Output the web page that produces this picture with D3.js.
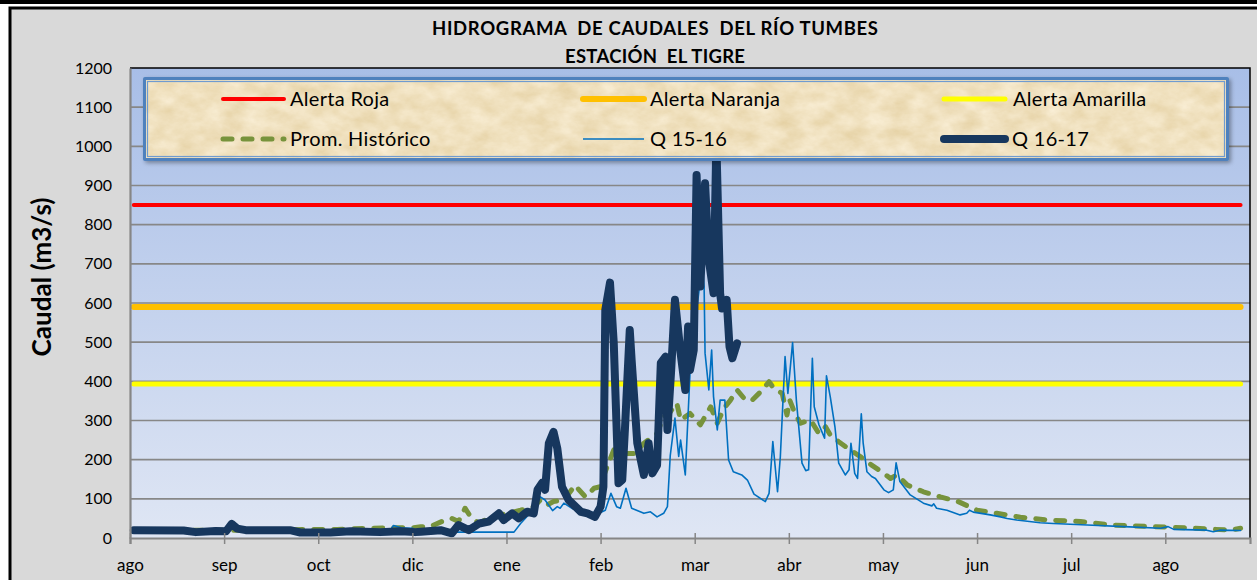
<!DOCTYPE html>
<html>
<head>
<meta charset="utf-8">
<script src="https://cdn.jsdelivr.net/npm/d3@7"></script>
<style>
  body { margin: 0; background: #fff; }
  svg { display: block; font-family: Lato, "Open Sans", sans-serif; }
</style>
</head>
<body>
<svg id="chart" width="1257" height="580"></svg>
<script>
'use strict'

// x values are months counted from 1 ago, y values in m3/s
const monthLabels = ['ago', 'sep', 'oct', 'dic', 'ene', 'feb', 'mar', 'abr', 'may', 'jun', 'jul', 'ago'];
const caudalTicks = [0, 100, 200, 300, 400, 500, 600, 700, 800, 900, 1000, 1100, 1200];

const seasonSpan = [0.04, 11.8];
const alertaRoja = 850;
const alertaNaranja = 590;
const alertaAmarilla = 393;

const promHistorico = [[0.04,20],[1.00,20],[1.50,20],[1.88,22],[2.20,22],[2.74,26],[3.00,26],[3.09,29],[3.19,29],[3.35,46],[3.42,50],[3.49,42],[3.56,76],[3.62,54],[3.71,37],[3.83,54],[4.01,63],[4.15,71],[4.29,80],[4.36,97],[4.43,84],[4.50,93],[4.61,97],[4.73,135],[4.77,123],[4.84,105],[4.93,127],[5.00,131],[5.03,157],[5.14,225],[5.25,216],[5.37,216],[5.46,242],[5.60,267],[5.67,310],[5.74,322],[5.81,344],[5.85,301],[5.95,318],[6.06,289],[6.11,310],[6.17,335],[6.24,293],[6.31,331],[6.38,352],[6.45,378],[6.54,352],[6.61,352],[6.72,378],[6.79,399],[6.84,382],[6.93,369],[6.98,314],[7.01,352],[7.05,327],[7.12,293],[7.23,301],[7.32,267],[7.39,284],[7.44,263],[7.53,246],[7.65,225],[7.76,208],[7.88,186],[8.01,165],[8.08,152],[8.15,161],[8.26,135],[8.43,118],[8.61,105],[8.80,93],[9.00,71],[9.21,63],[9.46,53],[9.74,46],[10.10,42],[10.45,33],[10.87,29],[11.30,25],[11.69,20],[11.80,25]];

const q1516 = [[0.04,17],[1.00,16],[1.08,24],[1.20,17],[2.00,12],[2.50,13],[2.75,15],[2.80,32],[2.88,26],[3.00,25],[3.06,17],[3.12,15],[4.08,15],[4.15,37],[4.25,63],[4.36,105],[4.41,97],[4.49,70],[4.54,80],[4.57,76],[4.61,89],[4.70,75],[4.85,65],[5.00,65],[5.05,71],[5.11,114],[5.17,80],[5.21,76],[5.27,127],[5.33,76],[5.46,63],[5.53,67],[5.60,54],[5.67,63],[5.71,80],[5.74,210],[5.79,306],[5.83,208],[5.85,250],[5.90,161],[5.95,420],[5.97,540],[6.03,600],[6.08,700],[6.10,642],[6.11,472],[6.15,378],[6.18,480],[6.20,361],[6.24,276],[6.27,352],[6.32,352],[6.36,199],[6.41,169],[6.50,161],[6.56,148],[6.63,112],[6.75,93],[6.79,114],[6.83,246],[6.88,118],[6.91,208],[6.96,463],[6.99,369],[7.04,499],[7.08,352],[7.14,191],[7.18,172],[7.21,174],[7.25,459],[7.27,335],[7.32,289],[7.38,255],[7.40,414],[7.44,361],[7.49,284],[7.53,191],[7.60,161],[7.64,174],[7.66,242],[7.70,165],[7.73,152],[7.77,317],[7.79,242],[7.83,169],[7.88,157],[7.92,152],[8.01,123],[8.06,116],[8.11,123],[8.14,192],[8.18,144],[8.29,110],[8.43,89],[8.52,82],[8.54,87],[8.57,76],[8.68,71],[8.82,59],[8.89,63],[8.92,71],[8.96,66],[9.14,59],[9.25,54],[9.32,50],[9.42,46],[9.67,39],[9.81,37],[10.17,33],[10.56,29],[10.95,25],[11.03,29],[11.09,22],[11.44,20],[11.51,16],[11.58,20],[11.80,19]];

const q1617 = [[0.04,20],[0.57,19],[0.70,15],[0.91,18],[1.02,17],[1.08,36],[1.14,24],[1.23,20],[1.70,20],[1.81,14],[2.13,14],[2.34,17],[2.66,15],[2.87,17],[3.03,15],[3.09,16],[3.30,20],[3.42,12],[3.49,33],[3.60,20],[3.71,37],[3.81,42],[3.92,63],[3.97,46],[4.06,63],[4.13,50],[4.22,67],[4.29,63],[4.33,123],[4.38,141],[4.41,123],[4.45,242],[4.50,271],[4.54,229],[4.59,131],[4.66,97],[4.79,67],[4.86,63],[4.94,54],[5.00,80],[5.03,131],[5.05,582],[5.10,652],[5.14,497],[5.19,140],[5.23,148],[5.26,284],[5.31,531],[5.33,454],[5.39,242],[5.46,161],[5.51,242],[5.55,165],[5.60,186],[5.64,447],[5.69,463],[5.71,276],[5.75,429],[5.79,608],[5.85,472],[5.90,378],[5.93,540],[5.95,429],[5.99,480],[6.02,927],[6.06,642],[6.11,906],[6.15,710],[6.20,625],[6.23,1010],[6.27,625],[6.29,586],[6.34,608],[6.37,488],[6.40,459],[6.45,497]];

const series = [
    { name: 'Alerta Roja', data: seasonSpan.map(m => [m, alertaRoja]), color: '#ff0000', width: 4 },
    { name: 'Alerta Naranja', data: seasonSpan.map(m => [m, alertaNaranja]), color: '#ffc000', width: 6 },
    { name: 'Alerta Amarilla', data: seasonSpan.map(m => [m, alertaAmarilla]), color: '#ffff00', width: 5 },
    { name: 'Prom. Histórico', data: promHistorico, color: '#77933c', width: 5, dash: '9,11' },
    { name: 'Q 15-16', data: q1516, color: '#0070c0', width: 1.6 },
    { name: 'Q 16-17', data: q1617, color: '#17375e', width: 8 }
];

const plotLeft = 130, plotRight = 1250, plotTop = 68, plotBottom = 538;

const svg = d3.select('#chart');
const defs = svg.append('defs');

let bg = defs.append('linearGradient').attr('id', 'plotBg')
    .attr('x1', 0).attr('y1', 0).attr('x2', 0).attr('y2', 1);
bg.append('stop').attr('offset', '0%').attr('stop-color', '#a8bee7');
bg.append('stop').attr('offset', '100%').attr('stop-color', '#dfe6f4');

// parchment texture for the legend box
let parch = defs.append('filter').attr('id', 'parchment')
    .attr('x', 0).attr('y', 0).attr('width', '100%').attr('height', '100%')
    .attr('color-interpolation-filters', 'sRGB');
parch.append('feTurbulence').attr('type', 'fractalNoise')
    .attr('baseFrequency', '0.045 0.07').attr('numOctaves', 5).attr('seed', 7);
parch.append('feColorMatrix').attr('type', 'matrix')
    .attr('values', '0.09 0 0 0 0.895  0.13 0 0 0 0.815  0.22 0 0 0 0.635  0 0 0 0 1');

let shadow = defs.append('filter').attr('id', 'legendShadow')
    .attr('x', '-5%').attr('y', '-20%').attr('width', '110%').attr('height', '140%');
shadow.append('feDropShadow').attr('dx', 2).attr('dy', 2).attr('stdDeviation', 2)
    .attr('flood-color', '#000').attr('flood-opacity', 0.35);

// frame
svg.append('rect').attr('x', 0).attr('y', 0).attr('width', 1257).attr('height', 4).attr('fill', '#000');
svg.append('rect')
    .attr('x', 10).attr('y', 8).attr('width', 1260).attr('height', 600)
    .attr('fill', '#d9d9d9').attr('stroke', '#000').attr('stroke-width', 3);

// titles
svg.append('text')
    .attr('x', 655).attr('y', 35)
    .attr('text-anchor', 'middle')
    .attr('font-size', 18.5).attr('font-weight', 'bold')
    .attr('textLength', 446).attr('lengthAdjust', 'spacing')
    .style('white-space', 'pre')
    .text('HIDROGRAMA  DE CAUDALES  DEL RÍO TUMBES');

svg.append('text')
    .attr('x', 655).attr('y', 63)
    .attr('text-anchor', 'middle')
    .attr('font-size', 18.5).attr('font-weight', 'bold')
    .attr('textLength', 180).attr('lengthAdjust', 'spacing')
    .style('white-space', 'pre')
    .text('ESTACIÓN  EL TIGRE');

svg.append('text')
    .attr('transform', 'translate(51,277) rotate(-90)')
    .attr('text-anchor', 'middle')
    .attr('font-size', 26).attr('font-weight', 'bold')
    .text('Caudal (m3/s)');

let x = d3.scaleLinear().domain([0, 11.9]).range([plotLeft, plotRight]);
let y = d3.scaleLinear().domain([0, 1200]).range([plotBottom, plotTop]);

svg.append('rect')
    .attr('x', plotLeft).attr('y', plotTop)
    .attr('width', plotRight - plotLeft).attr('height', plotBottom - plotTop)
    .attr('fill', 'url(#plotBg)');

// gridlines
svg.append('g')
    .selectAll('line')
    .data(caudalTicks.filter(v => v > 0 && v < 1200))
    .join('line')
    .attr('x1', plotLeft).attr('x2', plotRight)
    .attr('y1', d => y(d)).attr('y2', d => y(d))
    .attr('stroke', '#878787').attr('stroke-width', 1.6);

// top and right border of the plot area
svg.append('path')
    .attr('d', `M${plotLeft},${plotTop}H${plotRight}V${plotBottom}`)
    .attr('fill', 'none').attr('stroke', '#000').attr('stroke-width', 1.5);

let line = d3.line().x(d => x(d[0])).y(d => y(d[1]));

svg.append('g')
    .selectAll('path')
    .data(series)
    .join('path')
    .attr('d', d => line(d.data))
    .attr('fill', 'none')
    .attr('stroke', d => d.color)
    .attr('stroke-width', d => d.width)
    .attr('stroke-dasharray', d => d.dash || null)
    .attr('stroke-linecap', 'round')
    .attr('stroke-linejoin', 'round');

// axes
let xAxis = svg.append('g')
    .attr('transform', `translate(0,${plotBottom})`)
    .call(d3.axisBottom(x)
        .tickValues(d3.range(monthLabels.length))
        .tickFormat(i => monthLabels[i])
        .tickSizeOuter(0)
        .tickSize(6)
        .tickPadding(15));
xAxis.select('.domain').attr('stroke', '#868686').attr('stroke-width', 2.2);
xAxis.selectAll('.tick line').attr('stroke', '#868686').attr('stroke-width', 1.5)
    .attr('y1', -5).attr('y2', 6);
xAxis.selectAll('.tick text')
    .attr('font-family', 'Lato, sans-serif').attr('font-size', 17).attr('fill', '#000');

let yAxis = svg.append('g')
    .attr('transform', `translate(${plotLeft},0)`)
    .call(d3.axisLeft(y)
        .tickValues(caudalTicks)
        .tickFormat(d3.format('d'))
        .tickSizeOuter(0)
        .tickSize(0)
        .tickPadding(18));
yAxis.select('.domain').attr('stroke', '#868686').attr('stroke-width', 2.2);
yAxis.selectAll('.tick text')
    .attr('font-family', 'Lato, sans-serif').attr('font-size', 16).attr('fill', '#000');

// legend
let legend = svg.append('g');
legend.append('rect')
    .attr('x', 143).attr('y', 77).attr('width', 1086).attr('height', 84)
    .attr('rx', 2)
    .attr('fill', '#4f81bd')
    .attr('filter', 'url(#legendShadow)');
legend.append('rect')
    .attr('x', 146).attr('y', 80).attr('width', 1080).attr('height', 78)
    .attr('fill', '#eedcb2')
    .attr('filter', 'url(#parchment)');
legend.append('rect')
    .attr('x', 147.5).attr('y', 81.5).attr('width', 1077).attr('height', 75)
    .attr('fill', 'none').attr('stroke', '#6f9bd0').attr('stroke-width', 1.2);

let legendCols = [223, 583, 944];
let legendRows = [99, 139];

let items = legend.selectAll('g.item')
    .data(series)
    .join('g')
    .attr('class', 'item')
    .attr('transform', (d, i) => `translate(${legendCols[i % 3]},${legendRows[Math.floor(i / 3)]})`);

items.append('line')
    .attr('x1', 0).attr('x2', 61)
    .attr('stroke', d => d.color)
    .attr('stroke-width', d => d.width)
    .attr('stroke-dasharray', d => d.dash || null)
    .attr('stroke-linecap', d => d.width > 2 ? 'round' : 'butt');

items.append('text')
    .attr('x', (d, i) => i === 5 ? 68 : (i === 2 ? 69 : 67))
    .attr('y', 7.3)
    .attr('font-size', 20)
    .attr('letter-spacing', 0.3)
    .attr('fill', '#000')
    .text(d => d.name);
</script>
</body>
</html>
